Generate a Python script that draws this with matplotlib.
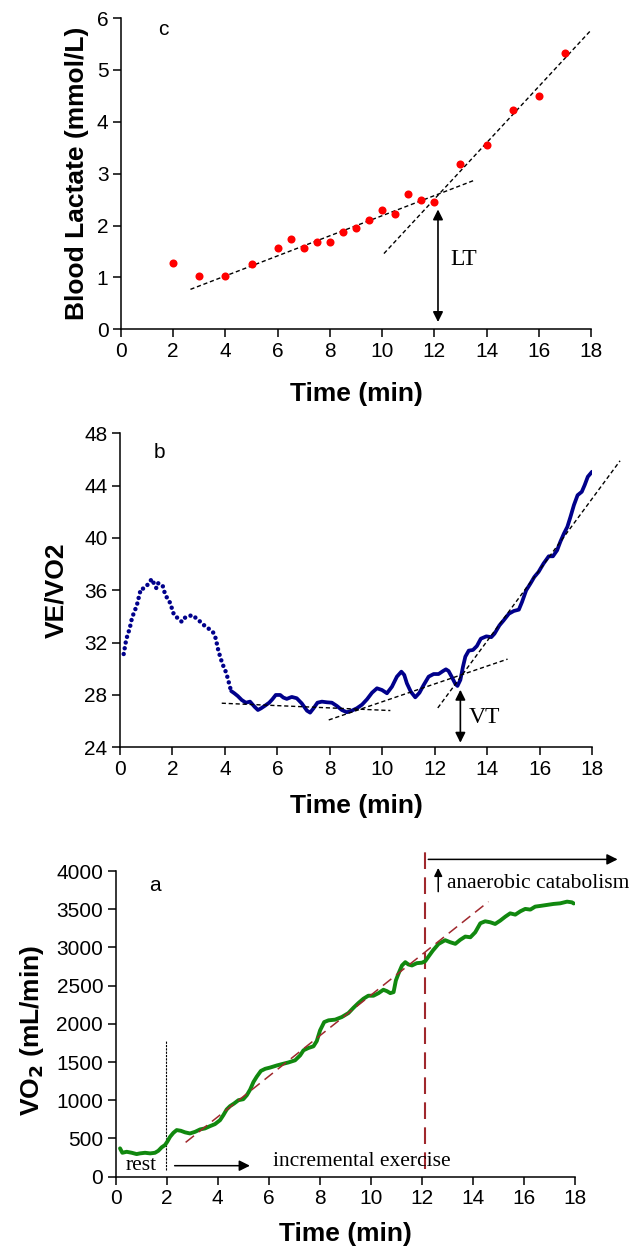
import matplotlib
matplotlib.use("Agg")
import matplotlib.pyplot as plt

plt.rcParams['font.family'] = ['Liberation Sans', 'DejaVu Sans']

# --- panel c: blood lactate samples ---
lac_t = [2, 3, 4, 5, 6, 6.5, 7, 7.5, 8, 8.5, 9, 9.5, 10, 10.5, 11, 11.5, 12, 13, 14, 15, 16, 17]
lac_val = [1.27, 1.02, 1.02, 1.26, 1.57, 1.74, 1.57, 1.69, 1.69, 1.88, 1.96, 2.11,
           2.30, 2.23, 2.60, 2.50, 2.45, 3.19, 3.55, 4.22, 4.50, 5.32]
lac_fit1_t = [2.66, 13.52]
lac_fit1 = [0.77, 2.87]
lac_fit2_t = [10.07, 17.99]
lac_fit2 = [1.46, 5.76]

# --- panel b: VE/VO2 ---
ve_t = [0.14, 0.23, 0.30, 0.37, 0.42, 0.53, 0.61, 0.67, 0.74, 0.80, 0.89, 0.98, 1.08, 1.21,
        1.28, 1.39, 1.46, 1.55, 1.63, 1.69, 1.77, 1.86, 1.93, 2.01, 2.06, 2.16, 2.26, 2.35,
        2.45, 2.58, 2.74, 2.86, 2.99, 3.12, 3.24, 3.40, 3.56, 3.63, 3.69, 3.75, 3.82, 3.88,
        3.94, 4.01, 4.07, 4.13, 4.17, 4.24, 4.36, 4.49, 4.64, 4.80, 4.96, 5.13, 5.26, 5.38,
        5.53, 5.69, 5.81, 5.94, 6.11, 6.23, 6.36, 6.55, 6.74, 6.93, 7.13, 7.25, 7.38, 7.53,
        7.70, 7.89, 8.08, 8.27, 8.46, 8.65, 8.84, 9.03, 9.23, 9.42, 9.61, 9.80, 9.99, 10.18,
        10.37, 10.56, 10.73, 10.84, 10.94, 11.09, 11.26, 11.42, 11.58, 11.77, 11.96, 12.15,
        12.32, 12.43, 12.53, 12.66, 12.79, 12.87, 12.98, 13.08, 13.17, 13.30, 13.46, 13.61,
        13.76, 13.97, 14.16, 14.28, 14.47, 14.63, 14.83, 15.02, 15.21, 15.33, 15.49, 15.65,
        15.80, 15.96, 16.15, 16.35, 16.51, 16.67, 16.79, 16.93, 17.06, 17.18, 17.31, 17.45,
        17.61, 17.72, 17.84, 18.00]
ve_val = [31.13, 32.15, 32.69, 33.04, 33.6, 34.3, 34.67, 35.06, 35.67, 36.13, 36.13, 36.28,
          36.48, 36.87, 36.58, 36.15, 36.54, 36.48, 36.33, 35.9, 35.5, 35.26, 34.93, 34.42,
          34.11, 33.94, 33.79, 33.6, 33.89, 33.96, 34.11, 33.94, 33.73, 33.48, 33.27, 33.04,
          32.76, 32.46, 31.95, 31.39, 30.93, 30.54, 30.22, 29.91, 29.53, 29.15, 28.76, 28.30,
          28.13, 27.92, 27.62, 27.41, 27.49, 27.10, 26.85, 26.98, 27.18, 27.41, 27.67, 28.0,
          28.0, 27.8, 27.7, 27.85, 27.75, 27.36, 26.80, 26.65, 26.98, 27.41, 27.49, 27.44,
          27.41, 27.16, 26.85, 26.68, 26.80, 26.98, 27.26, 27.67, 28.17, 28.51, 28.38, 28.13,
          28.63, 29.40, 29.78, 29.53, 28.89, 28.25, 27.82, 28.17, 28.76, 29.40, 29.60, 29.60,
          29.83, 29.96, 29.83, 29.35, 28.84, 28.69, 29.15, 30.16, 30.93, 31.39, 31.44, 31.74,
          32.30, 32.48, 32.42, 32.68, 33.32, 33.70, 34.21, 34.42, 34.52, 35.10, 36.0, 36.51,
          37.02, 37.40, 38.04, 38.60, 38.60, 39.06, 39.70, 40.34, 40.85, 41.62, 42.51, 43.27,
          43.53, 44.04, 44.68, 45.06]
ve_fit1_t = [3.88, 10.31]
ve_fit1 = [27.37, 26.81]
ve_fit2_t = [7.96, 14.78]
ve_fit2 = [26.09, 30.74]
ve_fit3_t = [12.12, 19.07]
ve_fit3 = [27.01, 45.9]

# --- panel a: VO2 ---
vo2_t = [0.17, 0.26, 0.43, 0.63, 0.82, 0.95, 1.15, 1.35, 1.54, 1.67, 1.80, 1.93, 2.02, 2.13,
         2.26, 2.39, 2.55, 2.72, 2.91, 3.11, 3.31, 3.50, 3.70, 3.89, 4.09, 4.22, 4.35, 4.48,
         4.64, 4.81, 5.00, 5.14, 5.27, 5.40, 5.53, 5.69, 5.86, 6.05, 6.31, 6.57, 6.77, 7.03,
         7.23, 7.36, 7.55, 7.75, 7.88, 8.01, 8.17, 8.34, 8.60, 8.86, 9.12, 9.32, 9.51, 9.71,
         9.90, 10.10, 10.30, 10.49, 10.63, 10.76, 10.89, 10.98, 11.08, 11.22, 11.35, 11.47,
         11.61, 11.80, 12.00, 12.13, 12.26, 12.43, 12.65, 12.91, 13.11, 13.31, 13.50, 13.70,
         13.90, 14.09, 14.29, 14.48, 14.68, 14.87, 15.07, 15.27, 15.46, 15.66, 15.86, 16.05,
         16.25, 16.44, 16.64, 16.90, 17.16, 17.42, 17.69, 17.88, 17.95]
vo2_val = [371, 313, 326, 313, 296, 305, 313, 305, 313, 339, 384, 414, 457, 522, 574, 610,
           601, 580, 566, 587, 619, 632, 662, 688, 740, 806, 880, 923, 958, 1001, 1014, 1067,
           1141, 1240, 1310, 1384, 1412, 1428, 1455, 1478, 1495, 1523, 1588, 1654, 1684, 1706,
           1775, 1915, 2023, 2046, 2055, 2089, 2141, 2211, 2272, 2329, 2368, 2368, 2402, 2446,
           2428, 2402, 2415, 2568, 2655, 2764, 2807, 2777, 2764, 2794, 2800, 2820, 2881, 2959,
           3045, 3095, 3068, 3047, 3099, 3142, 3133, 3198, 3316, 3342, 3329, 3307, 3351, 3403,
           3446, 3429, 3473, 3504, 3495, 3534, 3543, 3556, 3569, 3577, 3599, 3590, 3575]
vo2_fit_t = [2.74, 14.61]
vo2_fit = [449, 3599]

x_ticks = list(range(0, 19, 2))
serif = ['Liberation Serif', 'DejaVu Serif']
tick_fs = 15
lab_fs = 19
txt_fs = 15.5


def style_axes(ax):
    for s in ['top', 'right']:
        ax.spines[s].set_visible(False)
    ax.spines['left'].set_linewidth(1.1)
    ax.spines['bottom'].set_linewidth(1.1)
    ax.tick_params(direction='out', length=6, width=1.1, labelsize=tick_fs, pad=3)
    ax.set_xlim(0, 18)
    ax.set_xticks(x_ticks)


W, H = 641, 1252
fig = plt.figure(figsize=(W / 100, H / 100), dpi=100)


def box(left, top, right, bottom):
    return [left / W, 1 - bottom / H, (right - left) / W, (bottom - top) / H]


# ---------------- panel c ----------------
axc = fig.add_axes(box(121, 18, 591, 329.3))
style_axes(axc)
axc.set_ylim(0, 6)
axc.set_yticks(range(0, 7))
axc.plot(lac_fit1_t, lac_fit1, color='k', lw=1, ls=(0, (3, 2)))
axc.plot(lac_fit2_t, lac_fit2, color='k', lw=1, ls=(0, (3, 2)))
axc.plot(lac_t, lac_val, 'o', color='#ff0000', ms=5.8, mec='none')
axc.annotate('', xy=(12.14, 0.14), xytext=(12.14, 2.31),
             arrowprops=dict(arrowstyle='<|-|>', color='k', lw=1.2, mutation_scale=15,
                             shrinkA=0, shrinkB=0))
axc.text(12.6, 1.35, 'LT', family=serif, fontsize=17, va='center', ha='left')
axc.text(1.61, 5.77, 'c', fontsize=tick_fs, ha='center', va='center')
axc.set_xlabel('Time (min)', fontsize=lab_fs, fontweight='bold')
axc.xaxis.set_label_coords(0.5, -0.168)
axc.set_ylabel('Blood Lactate (mmol/L)', fontsize=lab_fs, fontweight='bold')
axc.yaxis.set_label_coords(-0.068, 0.5)

# ---------------- panel b ----------------
axb = fig.add_axes(box(120, 433.3, 592, 747.3))
style_axes(axb)
axb.set_ylim(24, 48)
axb.set_yticks(range(24, 49, 4))
navy = '#00008b'
n_dot = 48  # early part of the trace shows as separate dots
axb.plot(ve_t[:n_dot], ve_val[:n_dot], color=navy, lw=3.2, ls=(0, (0.01, 1.3)),
         dash_capstyle='round')
axb.plot(ve_t[n_dot - 1:], ve_val[n_dot - 1:], color=navy, lw=2.7, solid_capstyle='round')
axb.plot(ve_fit1_t, ve_fit1, color='k', lw=1, ls=(0, (3, 2)))
axb.plot(ve_fit2_t, ve_fit2, color='k', lw=1, ls=(0, (3, 2)))
axb.plot(ve_fit3_t, ve_fit3, color='k', lw=1, ls=(0, (3, 2)), clip_on=False)
axb.annotate('', xy=(12.98, 24.35), xytext=(12.98, 28.4),
             arrowprops=dict(arrowstyle='<|-|>', color='k', lw=1.2, mutation_scale=15,
                             shrinkA=0, shrinkB=0))
axb.text(13.3, 26.3, 'VT', family=serif, fontsize=17, va='center', ha='left')
axb.text(1.5, 46.55, 'b', fontsize=tick_fs, ha='center', va='center')
axb.set_xlabel('Time (min)', fontsize=lab_fs, fontweight='bold')
axb.xaxis.set_label_coords(0.5, -0.148)
axb.set_ylabel('VE/VO2', fontsize=lab_fs, fontweight='bold')
axb.yaxis.set_label_coords(-0.11, 0.5)

# ---------------- panel a ----------------
axa = fig.add_axes(box(115.7, 871, 575, 1176.7))
style_axes(axa)
axa.set_ylim(0, 4000)
axa.set_yticks(range(0, 4001, 500))
dred = '#a0282d'
axa.plot(vo2_t, vo2_val, color='#11880f', lw=2.8, solid_capstyle='round', zorder=3)
axa.plot(vo2_fit_t, vo2_fit, color=dred, lw=1.1, ls=(0, (7, 4)), zorder=4)
axa.plot([12.13, 12.13], [100, 4253], color=dred, lw=1.5, ls=(0, (8, 4)), clip_on=False)
axa.plot([1.97, 1.97], [91, 1790], color='k', lw=0.8, ls=(0, (2, 1)))
axa.annotate('', xy=(19.67, 4152), xytext=(12.25, 4152), annotation_clip=False,
             arrowprops=dict(arrowstyle='-|>', color='k', lw=1.1, mutation_scale=16,
                             shrinkA=0, shrinkB=0))
axa.annotate('', xy=(12.64, 4040), xytext=(12.64, 3730), annotation_clip=False,
             arrowprops=dict(arrowstyle='-|>', color='k', lw=1.1, mutation_scale=12,
                             shrinkA=0, shrinkB=0))
axa.text(13.0, 3830, 'anaerobic catabolism', family=serif, fontsize=txt_fs,
         va='center', ha='left')
axa.annotate('', xy=(5.26, 144), xytext=(2.31, 144),
             arrowprops=dict(arrowstyle='-|>', color='k', lw=1.1, mutation_scale=16,
                             shrinkA=0, shrinkB=0))
axa.text(1.0, 150, 'rest', family=serif, fontsize=txt_fs, va='center', ha='center')
axa.text(6.16, 205, 'incremental exercise', family=serif, fontsize=txt_fs,
         va='center', ha='left')
axa.text(1.54, 3810, 'a', fontsize=tick_fs, ha='center', va='center')
axa.set_xlabel('Time (min)', fontsize=lab_fs, fontweight='bold')
axa.xaxis.set_label_coords(0.5, -0.148)
axa.set_ylabel('VO$_\\mathbf{2}$ (mL/min)', fontsize=lab_fs, fontweight='bold')
axa.yaxis.set_label_coords(-0.151, 0.48)

fig.savefig('out.png', dpi=100)
